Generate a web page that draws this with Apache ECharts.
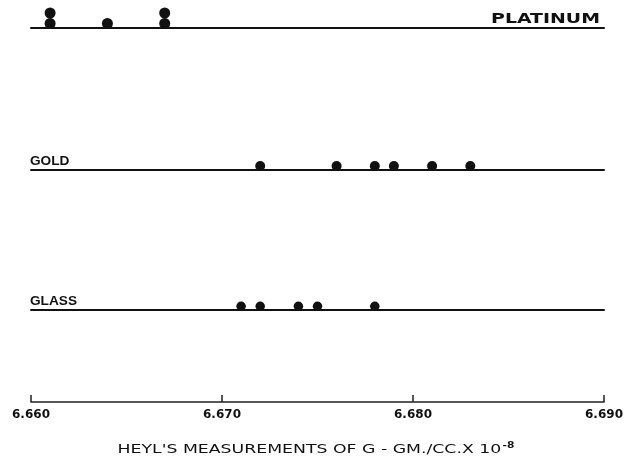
<!DOCTYPE html>
<html>
<head>
<meta charset="utf-8">
<script src="https://cdn.jsdelivr.net/npm/echarts@6/dist/echarts.min.js"></script>
<style>
  html, body { margin: 0; padding: 0; background: #fff; }
  #chart { width: 631px; height: 466px; }
</style>
</head>
<body>
<div id="chart"></div>
<script>
// Heyl's determinations of the gravitational constant, by ball material
const materials = ['PLATINUM', 'GOLD', 'GLASS'];
const platinum = [6.661, 6.661, 6.667, 6.667, 6.664];
const gold = [6.683, 6.681, 6.676, 6.678, 6.679, 6.672];
const glass = [6.678, 6.671, 6.675, 6.672, 6.674];
const tickValues = [6.660, 6.670, 6.680, 6.690];
const axisTitle = "HEYL'S MEASUREMENTS OF G - GM./CC.X 10";
const axisExponent = '-8';

const X_MIN = 6.660, X_MAX = 6.690;
const INK = '#111';

// one thin strip per material, the baseline of each strip is its rule
const rows = [
  { name: materials[0], values: platinum, lineY: 28, dot: 11 },
  { name: materials[1], values: gold, lineY: 170, dot: 10 },
  { name: materials[2], values: glass, lineY: 310, dot: 9.5 }
];
const LEFT = 31, RIGHT = 27;

const grid = [], xAxis = [], yAxis = [], series = [];

rows.forEach((r, i) => {
  grid.push({ left: LEFT, right: RIGHT, top: r.lineY - 30, height: 30 });
  xAxis.push({
    gridIndex: i, type: 'value', min: X_MIN, max: X_MAX,
    axisLine: { show: true, lineStyle: { color: INK, width: 2 } },
    axisTick: { show: false }, axisLabel: { show: false }, splitLine: { show: false }
  });
  yAxis.push({ gridIndex: i, type: 'value', min: 0, max: 1, show: false });

  // repeated readings are stacked on top of each other
  const seen = {};
  const pts = r.values.map(v => {
    const key = v.toFixed(3);
    const k = seen[key] || 0;
    seen[key] = k + 1;
    return {
      value: [v, 0],
      symbolOffset: [0, -(r.dot / 2 - 1 + k * (r.dot - 0.5))]
    };
  });
  series.push({
    type: 'scatter', xAxisIndex: i, yAxisIndex: i,
    symbol: 'circle', symbolSize: r.dot,
    itemStyle: { color: INK, opacity: 1 },
    data: pts, silent: true, z: 5
  });
});

// scale strip at the bottom
const ai = rows.length;
grid.push({ left: LEFT, right: RIGHT, top: 380, height: 22 });
xAxis.push({
  gridIndex: ai, type: 'value', min: X_MIN, max: X_MAX, interval: 0.01,
  axisLine: { show: true, lineStyle: { color: '#222', width: 1.5 } },
  axisTick: { show: true, inside: true, length: 7, lineStyle: { color: '#222', width: 1.5 } },
  axisLabel: {
    show: true, margin: 7, color: INK,
    fontFamily: 'DejaVu Sans', fontWeight: 'bold', fontSize: 12,
    formatter: v => {
      const t = tickValues.find(x => Math.abs(x - v) < 1e-6);
      return t === undefined ? '' : t.toFixed(3);
    }
  },
  splitLine: { show: false }
});
yAxis.push({ gridIndex: ai, type: 'value', min: 0, max: 1, show: false });

const labelFont = { fontFamily: 'Liberation Sans', fontWeight: 'bold', fontSize: 13, fill: INK };

const chart = echarts.init(document.getElementById('chart'), null, { renderer: 'canvas' });
chart.setOption({
  backgroundColor: '#fff',
  animation: false,
  grid, xAxis, yAxis, series,
  graphic: [
    { type: 'text', x: 600, y: 26, scaleX: 1.35,
      style: { text: rows[0].name, fontFamily: 'DejaVu Sans', fontWeight: 'bold', fontSize: 14, fill: INK,
               textAlign: 'right', textVerticalAlign: 'bottom' } },
    { type: 'text', x: 30, y: 168, scaleX: 1.05,
      style: Object.assign({ text: rows[1].name, textAlign: 'left', textVerticalAlign: 'bottom' }, labelFont) },
    { type: 'text', x: 30, y: 308, scaleX: 1.05,
      style: Object.assign({ text: rows[2].name, textAlign: 'left', textVerticalAlign: 'bottom' }, labelFont) },
    { type: 'text', x: 316, y: 450, scaleX: 1.33,
      style: {
        text: '{t|' + axisTitle + '}{s|' + axisExponent + '}',
        textAlign: 'center', textVerticalAlign: 'middle',
        rich: {
          t: { fontFamily: 'DejaVu Sans', fontSize: 13, fill: INK, fontWeight: 500 },
          s: { fontFamily: 'DejaVu Sans', fontSize: 8, fontWeight: 'bold', fill: INK, verticalAlign: 'top', padding: [0, 0, 9, 1] }
        }
      } }
  ]
});
</script>
</body>
</html>
